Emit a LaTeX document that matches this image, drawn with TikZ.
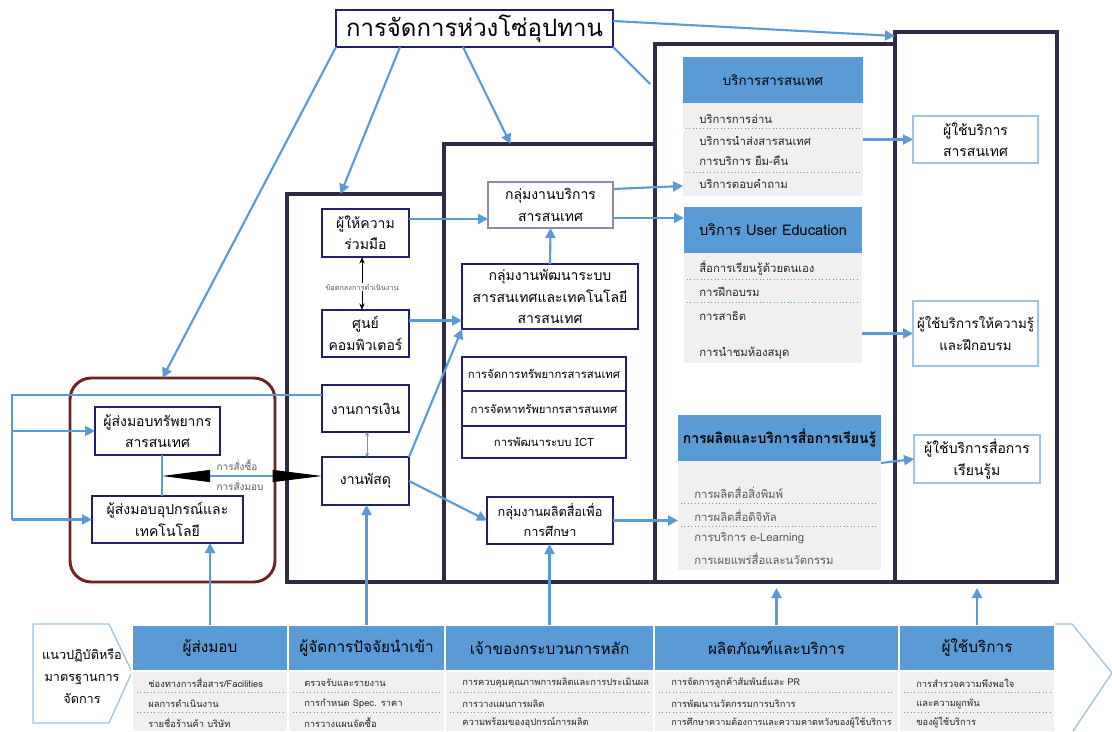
\documentclass[tikz,border=0pt]{standalone}
\usepackage{fontspec}
\setmainfont{Loma}[Script=Thai]
\usetikzlibrary{arrows.meta,calc}

\definecolor{lblue}{HTML}{5B9BD5}
\definecolor{ublue}{HTML}{9DC3E6}
\definecolor{colc}{HTML}{2F2B45}
\definecolor{navy}{HTML}{1F1F6E}
\definecolor{bgray}{HTML}{F0F0F0}
\definecolor{wine}{HTML}{6B2323}
\definecolor{pgray}{HTML}{8C8CAA}
\definecolor{tgray}{HTML}{5A5A5A}
\definecolor{itemc}{HTML}{262626}

\newcommand\fsz[2]{\fontsize{#1}{#2}\selectfont}
% box from (x1,y1) to (x2,y2) in pixel units
\newcommand\placebox[7]{\node[#6,minimum width={(#4-#2)*0.75pt},minimum height={(#5-#3)*0.75pt}] (#1) at ({(#2+#4)/2},{(#3+#5)/2}) {#7};}

\tikzset{
  ln/.style={draw=lblue,line width=1.6pt},
  arr/.style={ln,-{Triangle[length=7.5pt,width=7.5pt]}},
  colbox/.style={draw=colc,line width=2.9pt},
  bx/.style={draw=navy,line width=1pt,fill=white,align=center,font=\fsz{10.5}{16}},
  ubx/.style={draw=ublue,line width=1pt,fill=white,align=center,font=\fsz{10.5}{16}},
  hdr/.style={fill=lblue,draw=none,align=center},
  bhdr/.style={fill=lblue,draw=white,line width=1pt,align=center,font=\fsz{11.5}{13}},
  bdy/.style={fill=bgray,draw=none},
  bbdy/.style={fill=bgray,draw=white,line width=1pt},
  item/.style={anchor=west,text=itemc,font=\fsz{8.5}{9}},
  bitem/.style={anchor=west,text=itemc,font=\fsz{7}{8}},
  dsep/.style={draw=lblue,line width=0.6pt,dotted},
}

\begin{document}
\begin{tikzpicture}[x=0.75pt,y=-0.75pt,every node/.style={inner sep=1pt,outer sep=0pt}]
\useasboundingbox (0,0) rectangle (1112,731);

% ---- the four process columns ----
\placebox{c1}{287}{194}{444}{582}{colbox}{}
\placebox{c2}{444}{144}{655}{582}{colbox}{}
\placebox{c3}{655}{44}{895}{582}{colbox}{}
\placebox{c4}{895}{32}{1057}{582}{colbox}{}

% ---- supplier group ----
\placebox{sup}{70}{378}{275}{582}{draw=wine,line width=2.2pt,rounded corners=16pt}{}
\placebox{s1}{95}{407}{220}{455}{bx}{ผู้ส่งมอบทรัพยากร\\สารสนเทศ}
\placebox{s2}{92}{496}{243}{543}{bx}{ผู้ส่งมอบอุปกรณ์และ\\เทคโนโลยี}

% ---- title ----
\placebox{title}{336}{10}{613}{47}{draw=navy,line width=1.8pt,fill=white,font=\fsz{18}{20}}{การจัดการห่วงโซ่อุปทาน}

% ---- input column ----
\placebox{p1}{322}{209}{409}{257}{bx}{ผู้ให้ความ\\ร่วมมือ}
\placebox{comp}{322}{310}{409}{357}{bx}{ศูนย์\\คอมพิวเตอร์}
\placebox{ngern}{322}{385}{409}{432}{bx}{งานการเงิน}
\placebox{pasadu}{322}{457}{409}{505}{bx}{งานพัสดุ}

% ---- core process column ----
\placebox{bsvc}{488}{182}{613}{228}{bx,draw=pgray}{กลุ่มงานบริการ\\สารสนเทศ}
\placebox{dev}{462}{264}{638}{329}{bx}{กลุ่มงานพัฒนาระบบ\\สารสนเทศและเทคโนโลยี\\สารสนเทศ}
\placebox{t1}{462}{357}{626}{391}{bx,font=\fsz{8.5}{10}}{การจัดการทรัพยากรสารสนเทศ}
\placebox{t2}{462}{391}{626}{426}{bx,font=\fsz{8.5}{10}}{การจัดหาทรัพยากรสารสนเทศ}
\placebox{t3}{462}{426}{626}{458}{bx,font=\fsz{8.5}{10}}{การพัฒนาระบบ ICT}
\placebox{media}{487}{497}{613}{544}{bx,font=\fsz{9.5}{15}}{กลุ่มงานผลิตสื่อเพื่อ\\การศึกษา}

% ---- products and services column ----
\placebox{sh1}{683}{57}{863}{103}{hdr,font=\fsz{10}{11}}{บริการสารสนเทศ}
\placebox{sb1}{683}{103}{863}{196}{bdy}{}
\placebox{sh2}{684}{207}{862}{253}{hdr,font=\fsz{11}{12}}{บริการ User Education}
\placebox{sb2}{684}{253}{862}{363}{bdy}{}
\placebox{sh3}{678}{415}{881}{461}{hdr,font=\bfseries\fsz{10.5}{12}}{การผลิตและบริการสื่อการเรียนรู้}
\placebox{sb3}{678}{461}{881}{570}{bdy}{}

\node[item] (i11) at (698,119) {บริการการอ่าน};
\node[item] (i12) at (698,141) {บริการนำส่งสารสนเทศ};
\node[item] (i13) at (698,161) {การบริการ ยืม-คืน};
\node[item] (i14) at (698,184) {บริการตอบคำถาม};
\draw[dsep] (686,128) -- (860,128);
\draw[dsep] (686,172) -- (860,172);

\node[item] (i21) at (698,268) {สื่อการเรียนรู้ด้วยตนเอง};
\node[item] (i22) at (698,292) {การฝึกอบรม};
\node[item] (i23) at (698,316) {การสาธิต};
\node[item] (i24) at (698,353) {การนำชมห้องสมุด};
\draw[dsep] (687,279) -- (859,279);
\draw[dsep] (687,302) -- (859,302);

\node[item,text=tgray] (i31) at (693,493) {การผลิตสื่อสิ่งพิมพ์};
\node[item,text=tgray] (i32) at (693,516) {การผลิตสื่อดิจิทัล};
\node[item,text=tgray] (i33) at (693,538) {การบริการ e-Learning};
\node[item,text=tgray] (i34) at (693,559) {การเผยแพร่สื่อและนวัตกรรม};
\draw[dsep] (681,503) -- (878,503);
\draw[dsep] (681,526) -- (878,526);

% ---- user column ----
\placebox{u1}{913}{116}{1038}{163}{ubx}{ผู้ใช้บริการ\\สารสนเทศ}
\placebox{u2}{913}{301}{1038}{366}{ubx,font=\fsz{10}{16}}{ผู้ใช้บริการให้ความรู้\\และฝึกอบรม}
\placebox{u3}{914}{435}{1040}{483}{ubx}{ผู้ใช้บริการสื่อการ\\เรียนรู้ม}

% ---- bottom band ----
\draw[draw=ublue,line width=1pt,fill=white] (33,624) -- (109,624) -- (132,672) -- (109,723) -- (33,723) -- cycle;
\node[align=center,font=\fsz{9.5}{16.5}] (chev) at (82,676) {แนวปฏิบัติหรือ\\มาตรฐานการ\\จัดการ};
\draw[draw=ublue,line width=1pt] (1055,624) -- (1072,624) -- (1112,673) -- (1073,731);

\placebox{h1}{132}{625}{288}{671}{bhdr}{ผู้ส่งมอบ}
\placebox{h2}{288}{625}{445}{671}{bhdr}{ผู้จัดการปัจจัยนำเข้า}
\placebox{h3}{445}{625}{654}{671}{bhdr}{เจ้าของกระบวนการหลัก}
\placebox{h4}{654}{625}{899}{671}{bhdr}{ผลิตภัณฑ์และบริการ}
\placebox{h5}{899}{625}{1055}{671}{bhdr}{ผู้ใช้บริการ}
\placebox{b1}{132}{671}{288}{732}{bbdy}{}
\placebox{b2}{288}{671}{445}{732}{bbdy}{}
\placebox{b3}{445}{671}{654}{732}{bbdy}{}
\placebox{b4}{654}{671}{899}{732}{bbdy}{}
\placebox{b5}{899}{671}{1055}{732}{bbdy}{}

\foreach \xa/\xb in {132/288,288/445,445/654,654/899,899/1055}{
  \draw[dsep] (\xa+5,692) -- (\xb-5,692);
  \draw[dsep] (\xa+5,712) -- (\xb-5,712);
}

\node[bitem] (k11) at (147,683) {ช่องทางการสื่อสาร/Facilities};
\node[bitem] (k12) at (147,704) {ผลการดำเนินงาน};
\node[bitem] (k13) at (147,723) {รายชื่อร้านค้า บริษัท};
\node[bitem] (k21) at (303,683) {ตรวจรับและรายงาน};
\node[bitem] (k22) at (303,704) {การกำหนด Spec. ราคา};
\node[bitem] (k23) at (303,723) {การวางแผนจัดซื้อ};
\node[bitem] (k31) at (461,683) {การควบคุมคุณภาพการผลิตและการประเมินผล};
\node[bitem] (k32) at (461,704) {การวางแผนการผลิต};
\node[bitem] (k33) at (461,723) {ความพร้อมของอุปกรณ์การผลิต};
\node[bitem] (k41) at (670,683) {การจัดการลูกค้าสัมพันธ์และ PR};
\node[bitem] (k42) at (670,704) {การพัฒนานวัตกรรมการบริการ};
\node[bitem,font=\fsz{6.8}{8}] (k43) at (670,723) {การศึกษาความต้องการและความคาดหวังของผู้ใช้บริการ};
\node[bitem] (k51) at (915,683) {การสำรวจความพึงพอใจ};
\node[bitem] (k52) at (915,704) {และความผูกพัน};
\node[bitem] (k53) at (915,723) {ของผู้ใช้บริการ};

% ---- connectors from the title ----
\draw[arr] (title.south west) -- ($(sup.north)+(-10,0)$);
\draw[arr] ($(title.south west)+(64,0)$) -- ($(c1.north)+(-25,0)$);
\draw[arr] ($(title.south west)+(127,0)$) -- ($(c2.north)+(-39,0)$);
\draw[ln] (title.south east) -- ($(c3.north west)+(-5,40)$);
\draw[arr] ($(title.north east)+(0,11)$) -- ($(c4.north west)+(0,4)$);

% ---- supplier links ----
\coordinate (jn) at (162,476);
\draw[draw=lblue,line width=0.8pt] (jn |- s1.south) -- (jn |- s2.north);
\draw[draw=lblue,line width=0.8pt,{Triangle[length=36pt,width=9pt,color=black]}-{Triangle[length=37pt,width=9pt,color=black]}] (jn) -- (jn -| pasadu.west);
\node[text=tgray,font=\fsz{7.5}{9}] (buy) at (237,465) {การสั่งซื้อ};
\node[text=tgray,font=\fsz{7.5}{9}] (deliver) at (240,485) {การสั่งมอบ};

\coordinate (lt) at (12,395);
\draw[ln] ($(ngern.north west)+(0,10)$) -- (lt) -- (lt |- s2.west);
\draw[arr] (lt |- s1.west) -- (s1.west);
\draw[arr] (lt |- s2.west) -- (s2.west);

% ---- links inside the input column ----
\draw[black,line width=0.6pt,{Stealth[length=5pt,width=4pt]}-{Stealth[length=5pt,width=4pt]}] ($(p1.south)+(-3.5,0)$) -- ($(comp.north)+(-3.5,0)$);
\node[fill=white,text=tgray,font=\fsz{5.5}{6.5},inner sep=0.5pt] (agree) at (362,287) {ข้อตกลงการดำเนินงาน};
\draw[draw=lblue,line width=0.6pt,{Stealth[length=3pt,width=3pt]}-{Stealth[length=3pt,width=3pt]}] ($(ngern.south)+(1.5,0)$) -- ($(pasadu.north)+(1.5,0)$);

% ---- input to core process ----
\coordinate (q1) at ($(p1.east)+(0,-14)$);
\draw[arr] (q1) -- (q1 -| bsvc.west);
\coordinate (q2) at ($(comp.east)+(0,-13)$);
\draw[arr] (q2) -- (q2 -| dev.west);
\draw[arr] (pasadu.north east) -- (dev.south west);
\draw[arr] (pasadu.east) -- (media.west);
\draw[arr] (dev.north) -- (bsvc.south);

% ---- core process to services ----
\draw[arr] ($(bsvc.east)+(0,-16)$) -- ($(sb1.south west)+(0,-10)$);
\coordinate (q3) at ($(bsvc.east)+(0,13)$);
\draw[arr] (q3) -- (q3 -| sh2.west);
\draw[arr] (media.east) -- (media.east -| sb3.west);

% ---- services to users ----
\draw[arr] (u1.west -| sb1.east) -- (u1.west);
\draw[arr] (u2.west -| sb2.east) -- (u2.west);
\draw[arr] ($(sh3.south east)+(0,2)$) -- (u3.west);

% ---- bottom band to columns ----
\draw[arr] (h1.north) -- (h1.north |- s2.south);
\draw[arr] (h2.north) -- (h2.north |- pasadu.south);
\draw[arr] (h3.north) -- (h3.north |- media.south);
\draw[arr] (h4.north) -- ($(h4.north |- c3.south)+(0,6)$);
\draw[arr] (h5.north) -- ($(h5.north |- c4.south)+(0,6)$);
\end{tikzpicture}
\end{document}
